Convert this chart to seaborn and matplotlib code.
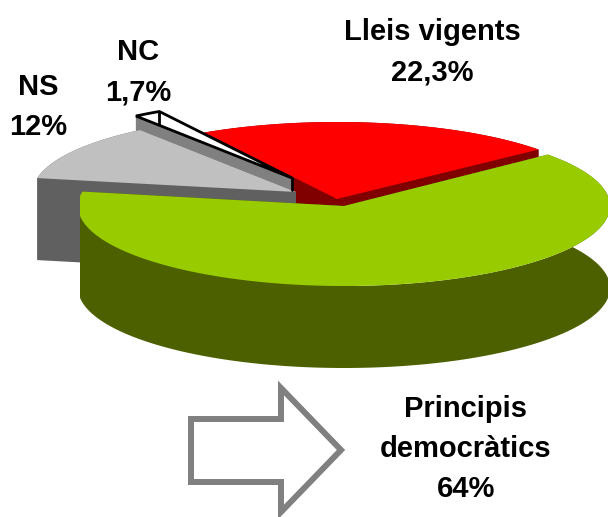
import matplotlib.pyplot as plt
import numpy as np
import seaborn as sns

# slices, in the order they go round the pie (clockwise)
categories = ['Principis democràtics', 'NS', 'NC', 'Lleis vigents']
values = [64, 12, 1.7, 22.3]
labels = ['Principis\ndemocràtics\n64%', 'NS\n12%', 'NC\n1,7%', 'Lleis vigents\n22,3%']

start_angle = 40
depth = 82

# exploded apex and radii of each slice, in pixels
apex = {'Principis democràtics': (344, 206), 'NS': (296, 192), 'NC': (292, 178), 'Lleis vigents': (337, 199)}
radii = {'Principis democràtics': (266, 80), 'NS': (263, 77), 'NC': (263, 77), 'Lleis vigents': (263, 77)}
top_col = {'Principis democràtics': '#99cc00', 'NS': '#c0c0c0', 'NC': '#ffffff', 'Lleis vigents': '#ff0000'}
side_col = {'Principis democràtics': '#4d6000', 'NS': '#606060', 'NC': '#808080', 'Lleis vigents': '#800000'}
label_pos = {'Principis democràtics': (466, 449), 'NS': (38, 107), 'NC': (138, 72), 'Lleis vigents': (432, 52)}
draw_order = ['Lleis vigents', 'NC', 'NS', 'Principis democràtics']

sns.set_style('white')
plt.rcParams['font.family'] = ['Liberation Sans', 'DejaVu Sans']

fig = plt.figure(figsize=(6.08, 5.17), dpi=100)
ax = fig.add_axes([0, 0, 1, 1])
ax.set_xlim(0, 608)
ax.set_ylim(517, 0)
ax.axis('off')

# angle range of each slice comes from the values
ends = start_angle - np.cumsum(values) / sum(values) * 360
starts = np.r_[start_angle, ends[:-1]]
ranges = dict(zip(categories, zip(starts, ends)))

for name in draw_order:
    a0, a1 = ranges[name]
    cx, cy = apex[name]
    rx, ry = radii[name]
    deg = np.linspace(a0, a1, 300)
    t = np.radians(deg)
    xs = cx + rx * np.cos(t)
    ys = cy - ry * np.sin(t)
    band = np.ones(len(t), dtype=bool)
    # the plot area cuts the big slice off on the left, its wall stops at the far left
    if name == 'Principis democràtics':
        xs = np.maximum(xs, 80)
        band = deg >= -180
    edge = 'black' if name == 'NC' else 'none'
    lw = 2 if name == 'NC' else 0

    # cut faces, then the outer band, then the top
    for x, y in [(xs[0], ys[0]), (xs[-1], ys[-1])]:
        ax.fill([cx, x, x, cx], [cy, y, y + depth, cy + depth], color=side_col[name], lw=0)
    ax.fill(np.r_[xs[band], xs[band][::-1]], np.r_[ys[band], ys[band][::-1] + depth], color=side_col[name], lw=0)
    if name == 'NC':
        ax.plot([cx, cx], [cy, cy + 12], color='black', lw=lw)
        ax.plot([xs[-1], xs[-1]], [ys[-1], ys[-1] + 12], color='black', lw=lw)
    ax.fill(np.r_[cx, xs], np.r_[cy, ys], facecolor=top_col[name], edgecolor=edge, lw=lw)

# arrow pointing at the big slice
arrow_x = [191, 281, 281, 341, 281, 281, 191]
arrow_y = [419, 419, 388, 450, 512, 482, 482]
ax.fill(arrow_x, arrow_y, facecolor='white', edgecolor='#808080', lw=4.3, joinstyle='miter')

for name, lab in zip(categories, labels):
    x, y = label_pos[name]
    ax.text(x, y, lab, ha='center', va='center', fontsize=21, fontweight='bold', color='black', linespacing=1.55)

plt.savefig('out.png', dpi=100)
